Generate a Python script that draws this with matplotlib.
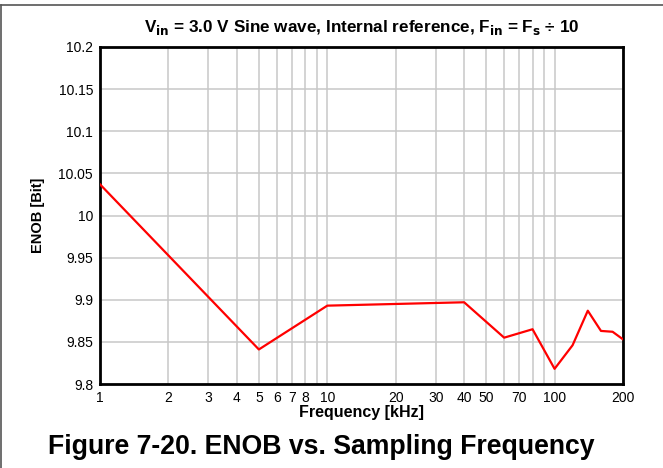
import matplotlib
matplotlib.use("Agg")
import matplotlib.pyplot as plt
from matplotlib.lines import Line2D
from matplotlib.ticker import FixedLocator, NullLocator

plt.rcParams['font.family'] = ['Liberation Sans', 'DejaVu Sans']

# sampling frequency [kHz] and ENOB [Bit]
freq_khz = [1, 5, 10, 40, 60, 80, 100, 120, 140, 160, 180, 200]
enob = [10.037, 9.841, 9.893, 9.897, 9.855, 9.865, 9.818, 9.846, 9.887, 9.863, 9.862, 9.853]

x_labels = [1, 2, 3, 4, 5, 6, 7, 8, 10, 20, 30, 40, 50, 70, 100, 200]
x_grid = [1, 2, 3, 4, 5, 6, 7, 8, 9, 10, 20, 30, 40, 50, 60, 70, 80, 90, 100, 200]
y_ticks = [9.8, 9.85, 9.9, 9.95, 10, 10.05, 10.1, 10.15, 10.2]

fig = plt.figure(figsize=(6.63, 4.68), dpi=100)
ax = fig.add_axes([100 / 663, 1 - 384 / 468, 523 / 663, 337 / 468])

ax.plot(freq_khz, enob, color='#ff0000', lw=1.6, zorder=3)

ax.set_xscale('log')
ax.set_xlim(1, 200)
ax.set_ylim(9.8, 10.2)

ax.xaxis.set_major_locator(FixedLocator(x_labels))
ax.xaxis.set_minor_locator(NullLocator())
ax.set_xticklabels([str(v) for v in x_labels])
ax.set_yticks(y_ticks)
ax.set_yticklabels(['9.8', '9.85', '9.9', '9.95', '10', '10.05', '10.1', '10.15', '10.2'])
ax.tick_params(length=0, labelsize=10, pad=5)

# grid lines at every decade subdivision
for g in x_grid[1:]:
    ax.axvline(g, color='#c8c8c8', lw=1.1, zorder=1)
for g in y_ticks[1:-1]:
    ax.axhline(g, color='#c8c8c8', lw=1.1, zorder=1)

for s in ax.spines.values():
    s.set_linewidth(2)
    s.set_color('black')

ax.set_xlabel('Frequency [kHz]', fontsize=11.5, fontweight='bold', labelpad=0)
ax.set_ylabel('ENOB [Bit]', fontsize=10.5, fontweight='bold', labelpad=10)
ax.set_title(r'V$_{\mathbf{in}}$ = 3.0 V Sine wave, Internal reference, F$_{\mathbf{in}}$ = F$_{\mathbf{s}}$ ÷ 10',
             fontsize=12.3, fontweight='bold', pad=11)

fig.text(321 / 663, 1 - 447 / 468, 'Figure 7-20. ENOB vs. Sampling Frequency',
         ha='center', va='center', fontsize=19.2, fontweight='bold')

# frame lines (top and left)
fig.add_artist(Line2D([0.0015, 1], [1 - 5 / 468, 1 - 5 / 468], transform=fig.transFigure,
                      color='#555555', lw=1.2))
fig.add_artist(Line2D([0.0015, 0.0015], [0, 1 - 5 / 468], transform=fig.transFigure,
                      color='#555555', lw=1.2))

fig.savefig('out.png', dpi=100)
